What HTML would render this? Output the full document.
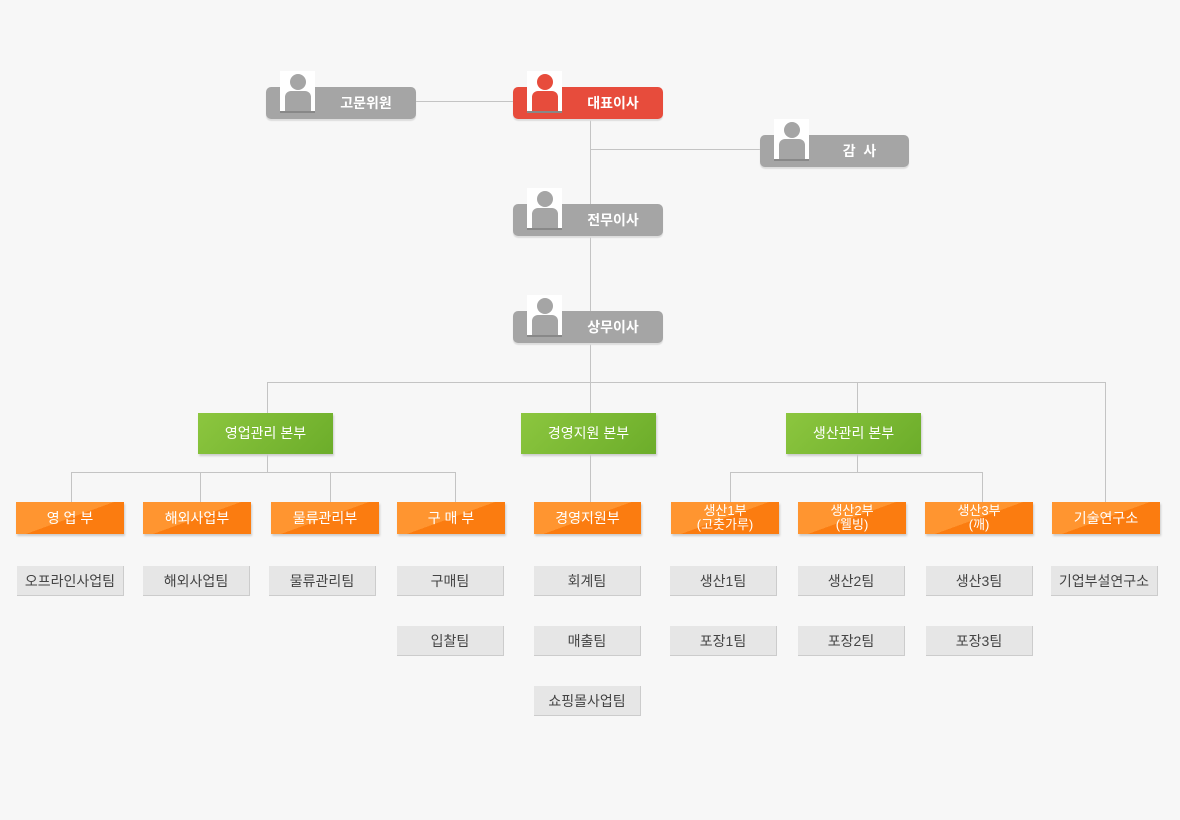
<!DOCTYPE html>
<html><head><meta charset="utf-8"><style>
body{margin:0;width:1180px;height:820px;background:#f7f7f7;position:relative;overflow:hidden;font-family:"Liberation Sans","Noto Sans CJK KR","NanumGothic",sans-serif}
div{position:absolute;box-sizing:border-box}
.l{background:#c4c4c4}
.p{height:32px;border-radius:5px;color:#fff;font-size:14px;font-weight:bold;line-height:32px;box-shadow:0 2px 1px #ddd}
.p span{position:absolute;left:50px;right:0;text-align:center}
.gr{background:#a5a5a5}.rd{background:#e74c3c}
.ic{width:35px;height:42px;background:#fff;border-bottom:2px solid #888}
.ic .h{width:16px;height:16px;border-radius:50%;left:10px;top:3px}
.ic .b{width:26px;height:20px;border-radius:6px 6px 0 0;left:5px;top:20px}
.g{height:41px;top:413px;width:135px;background:linear-gradient(135deg,#8cc63f,#6cad2a);color:#fff;font-size:14px;text-align:center;line-height:41px;box-shadow:1px 2px 2px #ccc}
.o{height:32px;top:502px;width:108px;background:linear-gradient(160deg,#ff9530 50%,#fb7c10 50%);color:#fff;font-size:14px;text-align:center;line-height:32px;box-shadow:1px 2px 2px #ccc}
.o2{font-size:13px;line-height:14px;padding-top:2px}
.t{height:30px;width:107px;background:#e6e6e6;color:#444;font-size:14px;text-align:center;line-height:30px;border-right:1px solid #ccc;border-bottom:1px solid #ccc}
</style></head><body>
<div class="l" style="left:416px;top:101px;width:97px;height:1px"></div>
<div class="l" style="left:590px;top:118px;width:1px;height:264px"></div>
<div class="l" style="left:590px;top:149px;width:170px;height:1px"></div>
<div class="l" style="left:267px;top:382px;width:839px;height:1px"></div>
<div class="l" style="left:267px;top:382px;width:1px;height:90px"></div>
<div class="l" style="left:857px;top:382px;width:1px;height:90px"></div>
<div class="l" style="left:1105px;top:382px;width:1px;height:120px"></div>
<div class="l" style="left:590px;top:382px;width:1px;height:120px"></div>
<div class="l" style="left:71px;top:472px;width:384px;height:1px"></div>
<div class="l" style="left:71px;top:472px;width:1px;height:30px"></div>
<div class="l" style="left:200px;top:472px;width:1px;height:30px"></div>
<div class="l" style="left:330px;top:472px;width:1px;height:30px"></div>
<div class="l" style="left:455px;top:472px;width:1px;height:30px"></div>
<div class="l" style="left:730px;top:472px;width:253px;height:1px"></div>
<div class="l" style="left:730px;top:472px;width:1px;height:30px"></div>
<div class="l" style="left:982px;top:472px;width:1px;height:30px"></div>

<div class="p gr" style="left:266px;top:87px;width:150px"><span>고문위원</span></div>
<div class="ic" style="left:280px;top:71px"><div class="h gr"></div><div class="b gr"></div></div>
<div class="p rd" style="left:513px;top:87px;width:150px"><span>대표이사</span></div>
<div class="ic" style="left:527px;top:71px"><div class="h rd"></div><div class="b rd"></div></div>
<div class="p gr" style="left:760px;top:135px;width:149px"><span>감 &nbsp;사</span></div>
<div class="ic" style="left:774px;top:119px"><div class="h gr"></div><div class="b gr"></div></div>
<div class="p gr" style="left:513px;top:204px;width:150px"><span>전무이사</span></div>
<div class="ic" style="left:527px;top:188px"><div class="h gr"></div><div class="b gr"></div></div>
<div class="p gr" style="left:513px;top:311px;width:150px"><span>상무이사</span></div>
<div class="ic" style="left:527px;top:295px"><div class="h gr"></div><div class="b gr"></div></div>

<div class="g" style="left:198px">영업관리 본부</div>
<div class="g" style="left:521px">경영지원 본부</div>
<div class="g" style="left:786px">생산관리 본부</div>

<div class="o" style="left:16px">영 업 부</div>
<div class="o" style="left:143px">해외사업부</div>
<div class="o" style="left:271px">물류관리부</div>
<div class="o" style="left:397px">구 매 부</div>
<div class="o" style="left:534px;width:107px">경영지원부</div>
<div class="o o2" style="left:671px">생산1부<br>(고춧가루)</div>
<div class="o o2" style="left:798px">생산2부<br>(웰빙)</div>
<div class="o o2" style="left:925px">생산3부<br>(깨)</div>
<div class="o" style="left:1052px">기술연구소</div>

<div class="t" style="left:17px;top:566px">오프라인사업팀</div>
<div class="t" style="left:143px;top:566px">해외사업팀</div>
<div class="t" style="left:269px;top:566px">물류관리팀</div>
<div class="t" style="left:397px;top:566px">구매팀</div>
<div class="t" style="left:397px;top:626px">입찰팀</div>
<div class="t" style="left:534px;top:566px">회계팀</div>
<div class="t" style="left:534px;top:626px">매출팀</div>
<div class="t" style="left:534px;top:686px">쇼핑몰사업팀</div>
<div class="t" style="left:670px;top:566px">생산1팀</div>
<div class="t" style="left:670px;top:626px">포장1팀</div>
<div class="t" style="left:798px;top:566px">생산2팀</div>
<div class="t" style="left:798px;top:626px">포장2팀</div>
<div class="t" style="left:926px;top:566px">생산3팀</div>
<div class="t" style="left:926px;top:626px">포장3팀</div>
<div class="t" style="left:1051px;top:566px">기업부설연구소</div>
</body></html>
